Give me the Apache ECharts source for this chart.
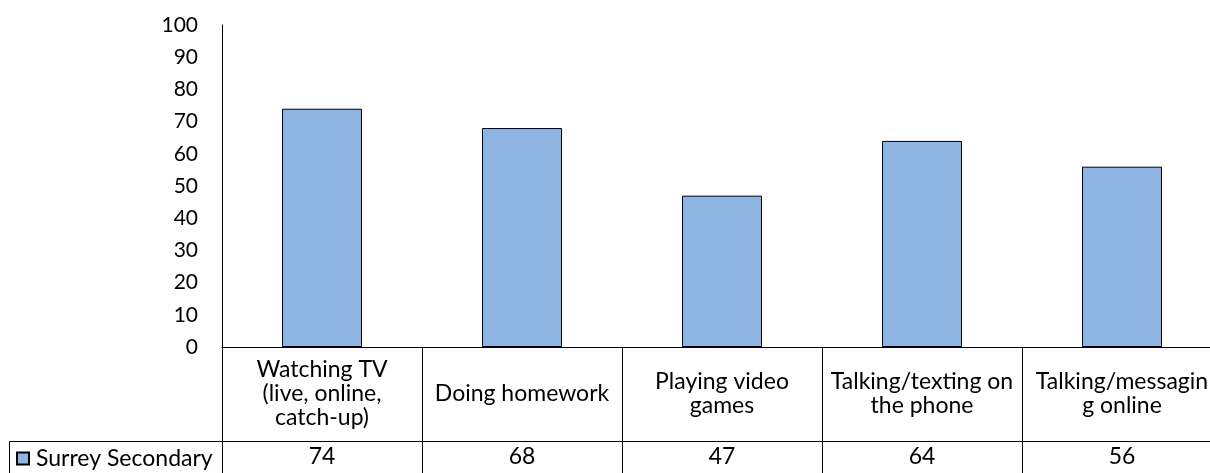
<!DOCTYPE html>
<html>
<head>
<meta charset="utf-8">
<script src="https://cdn.jsdelivr.net/npm/echarts@6/dist/echarts.min.js"></script>
<style>html,body{margin:0;padding:0;background:#fff;}#chart{width:1210px;height:473px;}</style>
</head>
<body>
<div id="chart"></div>
<script>
const categories = ["Watching TV\n(live, online,\ncatch-up)", "Doing homework", "Playing video\ngames", "Talking/texting on\nthe phone", "Talking/messagin\ng online"];
const seriesName = "Surrey Secondary";
const values = [74, 68, 47, 64, 56];
const yMin = 0, yMax = 100, yInterval = 10;

const FONT = "Lato";
const FS = 23;
const chart = echarts.init(document.getElementById('chart'));
chart.setOption({
  animation: false,
  textStyle: { fontFamily: FONT },
  grid: { left: 222, top: 25, width: 1000, height: 322, outerBoundsMode: 'none', containLabel: false },
  legend: {
    left: 11, top: 442, itemWidth: 12, itemHeight: 12, itemGap: 0,
    icon: 'rect',
    textStyle: { fontFamily: FONT, fontSize: FS, color: '#000', padding: [0,0,0,2] },
    data: [seriesName]
  },
  xAxis: [{
    type: 'category', data: categories, position: 'bottom',
    axisLine: { show: true, lineStyle: { color: '#000', width: 1 } },
    axisTick: { show: true, length: 126, lineStyle: { color: '#000', width: 1 } },
    axisLabel: { margin: 47, verticalAlign: 'middle', fontSize: FS, lineHeight: 24, color: '#000', fontFamily: FONT, interval: 0 }
  }, {
    type: 'category', data: values.map(String), position: 'bottom', offset: 94,
    axisLine: { show: true, lineStyle: { color: '#000', width: 1 } },
    axisTick: { show: false },
    axisLabel: { margin: 16, verticalAlign: 'middle', fontSize: FS, color: '#000', fontFamily: FONT, interval: 0 }
  }],
  yAxis: {
    type: 'value', min: yMin, max: yMax, interval: yInterval,
    axisLine: { show: true, lineStyle: { color: '#000', width: 1 } },
    axisTick: { show: false },
    splitLine: { show: false },
    axisLabel: { margin: 24, fontSize: 21, color: '#000', fontFamily: FONT }
  },
  graphic: [
    { type: 'line', shape: { x1: 9.5, y1: 441.5, x2: 222, y2: 441.5 }, style: { stroke: '#000', lineWidth: 1 } },
    { type: 'line', shape: { x1: 9.5, y1: 441.5, x2: 9.5, y2: 473 }, style: { stroke: '#000', lineWidth: 1 } }
  ],
  series: [{
    name: seriesName, type: 'bar', data: values, barWidth: '40%',
    itemStyle: { color: '#8EB4E3', borderColor: '#000', borderWidth: 1 }
  }]
});
</script>
</body>
</html>
